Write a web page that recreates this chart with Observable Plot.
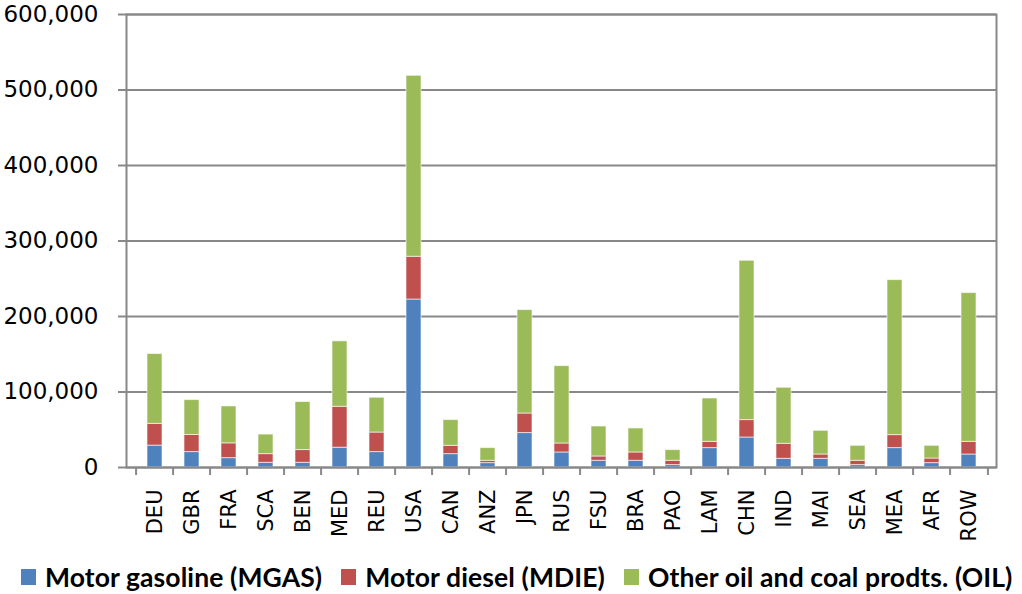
<!DOCTYPE html>
<html>
<head>
<meta charset="utf-8">
<script src="https://cdn.jsdelivr.net/npm/d3@7"></script>
<script src="https://cdn.jsdelivr.net/npm/@observablehq/plot@0.6"></script>
<style>
  html, body { margin: 0; padding: 0; background: #fff; }
  #chart svg { display: block; }
  #legend {
    height: 34px; display: flex; align-items: center;
    font-family: Lato, "Liberation Sans", sans-serif; font-weight: bold; font-size: 26.5px;
    letter-spacing: 0.1px;
    color: #000; white-space: nowrap; padding-left: 21px;
  }
  .item { display: flex; align-items: center; margin-right: 19px; }
  .sw { width: 15px; height: 16px; margin-right: 9px; }
</style>
</head>
<body>
<div id="chart"></div>
<div id="legend"></div>
<script>
const categories = ["DEU","GBR","FRA","SCA","BEN","MED","REU","USA","CAN","ANZ","JPN","RUS","FSU","BRA","PAO","LAM","CHN","IND","MAI","SEA","MEA","AFR","ROW"];
const mgas = [29000,20400,12400,6200,6200,26200,20400,222500,17700,5800,45600,19900,8900,8900,3200,25700,39700,11500,11500,3200,25700,5800,17200];
const mdie = [28800,22700,19600,11500,16900,54200,25900,56600,11000,3100,25900,11900,5700,11000,5700,8300,23100,19900,5700,5700,17200,6100,16800];
const oil  = [92500,46200,48900,25900,63600,86700,46100,239700,34100,16800,137000,102500,39700,31800,14100,57400,211000,74200,31400,19800,205300,16800,197000];
const seriesNames = ["Motor gasoline (MGAS)", "Motor diesel (MDIE)", "Other oil and coal prodts. (OIL)"];
const seriesColors = ["#4F81BD", "#C0504D", "#9BBB59"];
const yTicks = [0,100000,200000,300000,400000,500000,600000];

const rows = [];
[mgas, mdie, oil].forEach((vals, s) => {
  vals.forEach((v, i) => rows.push({region: categories[i], series: seriesNames[s], value: v}));
});

const W = 1022, H = 560, mL = 126, mR = 26, mT = 14, mB = 93;
const step = (W - mL - mR) / categories.length;
const grey = "#888888";

const chart = Plot.plot({
  width: W, height: H,
  marginLeft: mL, marginRight: mR, marginTop: mT, marginBottom: mB,
  style: {fontFamily: "DejaVu Sans", background: "#fff"},
  x: {domain: categories, paddingInner: 0.6, paddingOuter: 0.3, label: null},
  y: {domain: [0, 600000], label: null},
  color: {domain: seriesNames, range: seriesColors},
  marks: [
    Plot.gridY(yTicks, {stroke: grey, strokeOpacity: 1, strokeWidth: 2}),
    Plot.barY(rows, {x: "region", y: "value", fill: "series", order: seriesNames,
      stroke: "#ffffff", strokeOpacity: 0.6, strokeWidth: 1}),
    Plot.frame({stroke: grey, strokeWidth: 2}),
    Plot.axisY(yTicks, {tickSize: 8, tickPadding: 20, tickFormat: d3.format(","),
      fontSize: 23, stroke: grey, strokeWidth: 2, fill: "#000", label: null}),
    Plot.axisX({tickSize: 8, tickFormat: () => "", dx: -step / 2, stroke: grey, strokeWidth: 2, label: null}),
    Plot.axisX([categories[categories.length - 1]], {tickSize: 8, tickFormat: () => "", dx: step / 2, stroke: grey, strokeWidth: 2, label: null}),
    Plot.axisX({tickSize: 0, tickPadding: 22, tickRotate: -90, fontSize: 21, fill: "#000", label: null})
  ]
});
document.getElementById("chart").appendChild(chart);

const legend = document.getElementById("legend");
seriesNames.forEach((name, i) => {
  const it = document.createElement("div");
  it.className = "item";
  const sw = document.createElement("div");
  sw.className = "sw";
  sw.style.background = seriesColors[i];
  const t = document.createElement("span");
  t.textContent = name;
  it.appendChild(sw); it.appendChild(t);
  legend.appendChild(it);
});
</script>
</body>
</html>
